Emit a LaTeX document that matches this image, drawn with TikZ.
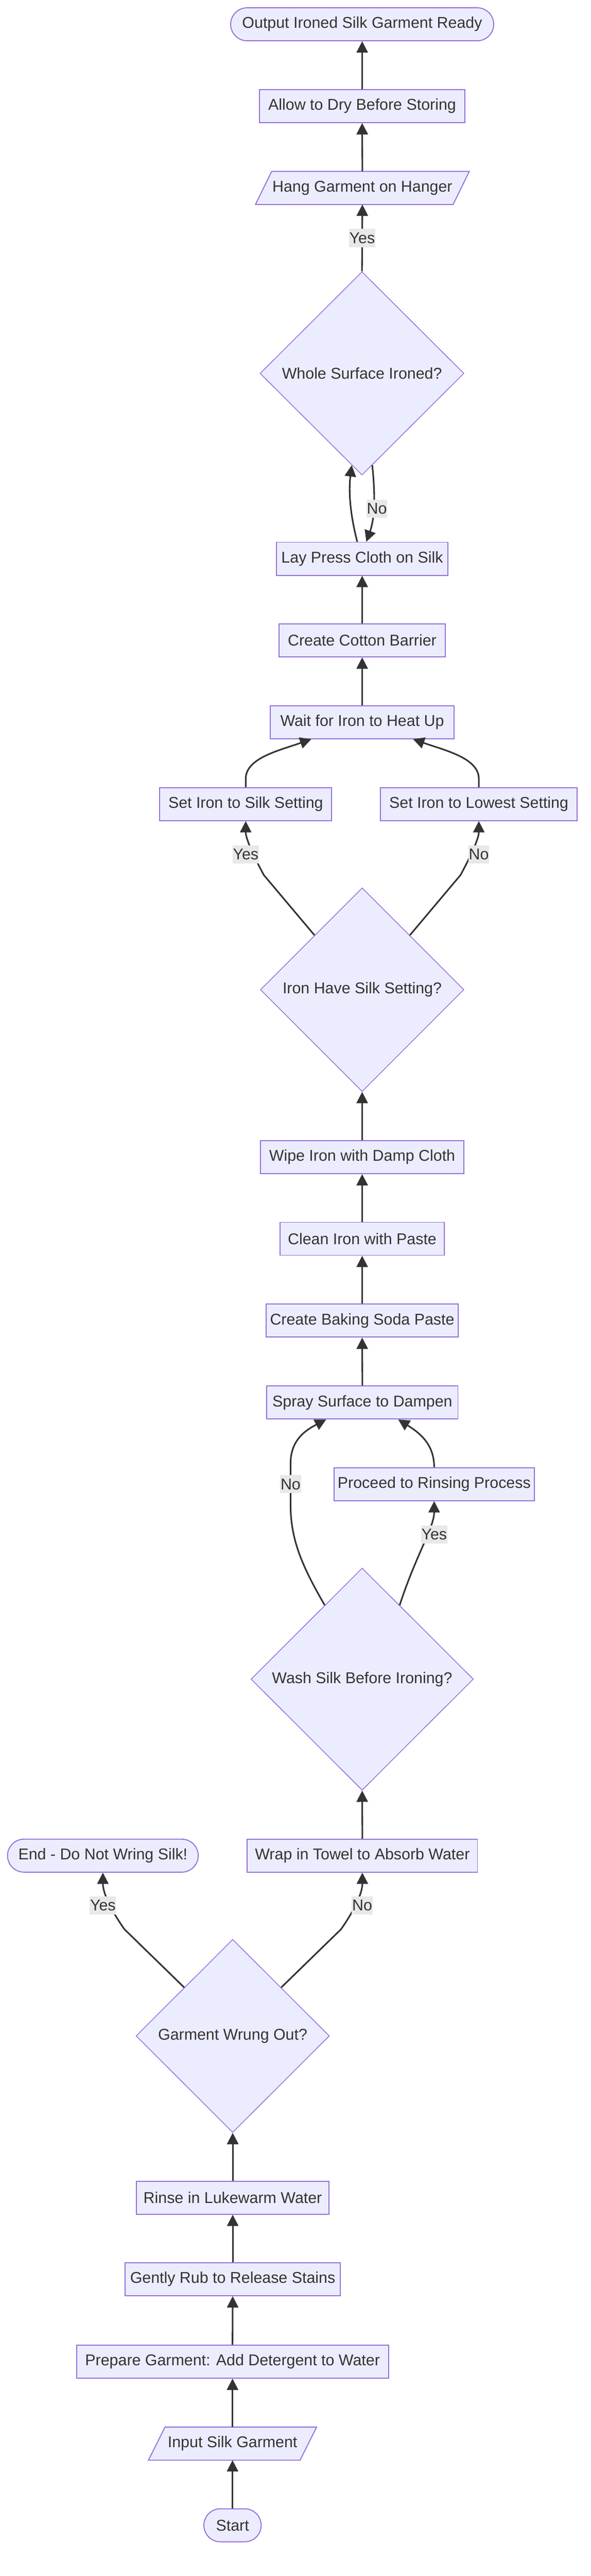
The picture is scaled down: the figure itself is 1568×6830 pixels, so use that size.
\documentclass[tikz,border=0pt]{standalone}
\usepackage{fontspec}
\setmainfont{Liberation Sans}
\usetikzlibrary{shapes.geometric,arrows.meta,calc,backgrounds}
\definecolor{nodefill}{HTML}{ECECFF}
\definecolor{nodeline}{HTML}{9370DB}
\definecolor{ink}{HTML}{333333}
\definecolor{lblfill}{HTML}{E8E8E8}
\begin{document}
\begin{tikzpicture}[x=1pt,y=-1pt,
  every node/.style={font=\fontsize{41.5}{50}\selectfont, text=ink},
  box/.style={rectangle, draw=nodeline, fill=nodefill, line width=2.6pt, minimum height=87.5pt, inner sep=0pt},
  stadium/.style={box, rounded corners=43.75pt},
  decision/.style={diamond, draw=nodeline, fill=nodefill, line width=2pt, inner sep=0pt, aspect=1},
  plain/.style={rectangle, minimum height=87.5pt, inner sep=0pt},
  para/.style={draw=nodeline, fill=nodefill, line width=2.6pt},
  arr/.style={draw=ink, line width=4.2pt, -{Triangle[length=30pt,width=30pt]}},
  lbl/.style={fill=lblfill, inner xsep=1pt, inner ysep=0pt, minimum height=48pt}]
\useasboundingbox (0,0) rectangle (1568,6830);

% nodes
\node[stadium, minimum width=698pt] (out) at (961,64.4) {Output Ironed Silk Garment Ready};
\node[box, minimum width=546pt] (allow) at (961,281.2) {Allow to Dry Before Storing};
\node[plain, minimum width=524pt] (hang) at (961.5,498.4) {Hang Garment on Hanger};
\node[decision, minimum width=541pt, minimum height=539pt] (whole) at (960.5,990) {Whole Surface Ironed?};
\node[box, minimum width=456pt] (lay) at (961,1481.5) {Lay Press Cloth on Silk};
\node[box, minimum width=442pt] (cotton) at (961,1698) {Create Cotton Barrier};
\node[box, minimum width=488pt] (wait) at (961,1914.8) {Wait for Iron to Heat Up};
\node[box, minimum width=456pt] (silk) at (652,2132) {Set Iron to Silk Setting};
\node[box, minimum width=521pt] (lowest) at (1270.5,2132) {Set Iron to Lowest Setting};
\node[decision, minimum width=540pt, minimum height=540pt] (ironhave) at (961,2624) {Iron Have Silk Setting?};
\node[box, minimum width=540pt] (wipe) at (961,3068) {Wipe Iron with Damp Cloth};
\node[box, minimum width=436pt] (clean) at (961,3284.5) {Clean Iron with Paste};
\node[box, minimum width=510pt] (baking) at (961,3501.5) {Create Baking Soda Paste};
\node[box, minimum width=507pt] (spray) at (961.5,3718.5) {Spray Surface to Dampen};
\node[box, minimum width=532pt] (proceed) at (1152,3935) {Proceed to Rinsing Process};
\node[decision, minimum width=590pt, minimum height=589pt] (wash) at (961,4452) {Wash Silk Before Ironing?};
\node[box, minimum width=611pt] (wrap) at (961.5,4920) {Wrap in Towel to Absorb Water};
\node[stadium, minimum width=506pt] (endn) at (273,4920) {End - Do Not Wring Silk!};
\node[decision, minimum width=513pt, minimum height=512pt] (wrung) at (617.5,5398) {Garment Wrung Out?};
\node[box, minimum width=511pt] (rinse) at (617.5,5827) {Rinse in Lukewarm Water};
\node[box, minimum width=571pt] (rub) at (617.5,6043) {Gently Rub to Release Stains};
\node[box, minimum width=828pt] (prep) at (617,6261.5) {Prepare Garment: Add Detergent to Water};
\node[plain, minimum width=402pt] (input) at (617,6479) {Input Silk Garment};
\node[stadium, minimum width=152pt] (start) at (617,6695.5) {Start};

\begin{scope}[on background layer]
\draw[para] ($(hang.south west)+(-21.5,0)$) -- ($(hang.north west)+(21.5,0)$) -- ($(hang.north east)+(21.5,0)$) -- ($(hang.south east)+(-21.5,0)$) -- cycle;
\draw[para] ($(input.south west)+(-22,0)$) -- ($(input.north west)+(22,0)$) -- ($(input.north east)+(22,0)$) -- ($(input.south east)+(-22,0)$) -- cycle;
\end{scope}

% helper coordinates on diamond edges
\coordinate (w1) at ($(wash.north)!0.336!(wash.west)$);
\coordinate (w2) at ($(wash.north)!0.336!(wash.east)$);
\coordinate (i1) at ($(ironhave.north)!0.467!(ironhave.west)$);
\coordinate (i2) at ($(ironhave.north)!0.467!(ironhave.east)$);
\coordinate (h1) at ($(whole.south)!0.1!(whole.west)$);
\coordinate (h2) at ($(whole.south)!0.1!(whole.east)$);
\coordinate (spL) at ($(spray.south)+(-96,0)$);
\coordinate (spR) at ($(spray.south)+(95,0)$);
\coordinate (waL) at ($(wait.south)+(-135,0)$);
\coordinate (waR) at ($(wait.south)+(135,0)$);
\coordinate (layL) at ($(lay.north)+(-13,0)$);
\coordinate (layR) at ($(lay.north)+(11,0)$);

% connectors
\draw[arr] (start.north) -- (input.south);
\draw[arr] (input.north) -- (prep.south);
\draw[arr] (prep.north) -- (rub.south);
\draw[arr] (rub.north) -- (rinse.south);
\draw[arr] (rinse.north) -- (wrung.south);
\draw[arr] (wrung.north west) -- (330,5115) .. controls (288,5055) and (273,5015) .. (endn.south);
\draw[arr] (wrung.north east) -- (905,5115) .. controls (947,5055) and (961.5,5015) .. (wrap.south);
\draw[arr] (wrap.north) -- (wash.south);
\draw[arr] (w1) .. controls (800,4150) and (771,4080) .. (771,3990) -- (771,3880) .. controls (771,3815) and (815,3790) .. (spL);
\draw[arr] (w2) .. controls (1105,4120) and (1152,4050) .. (proceed.south);
\draw[arr] (proceed.north) .. controls (1152,3830) and (1115,3800) .. (spR);
\draw[arr] (spray.north) -- (baking.south);
\draw[arr] (baking.north) -- (clean.south);
\draw[arr] (clean.north) -- (wipe.south);
\draw[arr] (wipe.north) -- (ironhave.south);
\draw[arr] (i1) -- (700,2320) .. controls (665,2255) and (652,2220) .. (silk.south);
\draw[arr] (i2) -- (1222,2320) .. controls (1257,2255) and (1270.5,2220) .. (lowest.south);
\draw[arr] (silk.north) -- (652,2065) .. controls (652,2010) and (740,1990) .. (waL);
\draw[arr] (lowest.north) -- (1270.5,2065) .. controls (1270.5,2010) and (1182,1990) .. (waR);
\draw[arr] (wait.north) -- (cotton.south);
\draw[arr] (cotton.north) -- (lay.south);
\draw[arr] (layL) .. controls (928,1360) and (925,1300) .. (h1);
\draw[arr] (h2) .. controls (995,1300) and (996,1370) .. (layR);
\draw[arr] (whole.north) -- (hang.south);
\draw[arr] (hang.north) -- (allow.south);
\draw[arr] (allow.north) -- (out.south);

% edge labels
\node[lbl] (l1) at (961,631) {Yes};
\node[lbl] (l2) at (1000,1349) {No};
\node[lbl] (l3) at (652,2265) {Yes};
\node[lbl] (l4) at (1270.5,2265) {No};
\node[lbl] (l5) at (771,3935) {No};
\node[lbl] (l6) at (1152,4068) {Yes};
\node[lbl] (l7) at (273,5052) {Yes};
\node[lbl] (l8) at (961,5052) {No};
\end{tikzpicture}
\end{document}
